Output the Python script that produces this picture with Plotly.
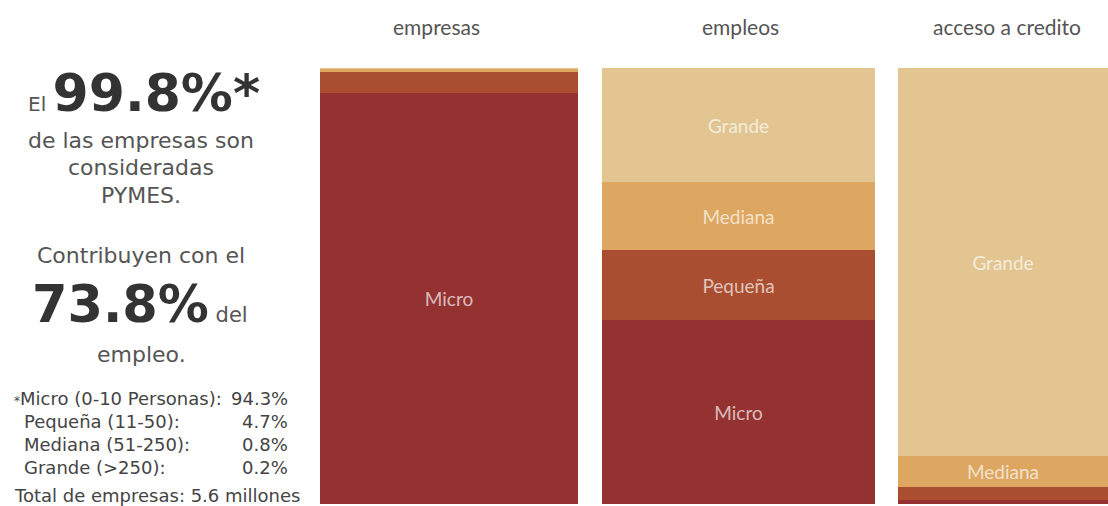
import plotly.graph_objects as go

# ---- data ----
panels = ["empresas", "empleos", "acceso a credito"]
segments = ["Micro", "Pequeña", "Mediana", "Grande"]
empresas_vals = [94.3, 4.7, 0.8, 0.2]
empleos_vals = [42.1, 16.1, 15.6, 26.2]
credito_vals = [1.0, 3.0, 7.0, 89.0]
footnote_labels = ["Micro (0-10 Personas):", "Pequeña (11-50):", "Mediana (51-250):", "Grande (>250):"]
pymes_share = "99.8%"
empleo_share = "73.8%"
total_text = "Total de empresas: 5.6 millones"

colors = {"Micro": "#933230", "Pequeña": "#A94E31", "Mediana": "#DDA761", "Grande": "#E2C591"}

W, H = 1108, 506
TOP, BOT = 68, 504

def px(x):
    return x / W

def py(y):
    return (BOT - y) / (BOT - TOP)

values_by_panel = [empresas_vals, empleos_vals, credito_vals]
axis_ids = ["x", "x2", "x3"]
domains = [[320 / W, 578 / W], [602 / W, 875 / W], [898 / W, 1.0]]

fig = go.Figure()
for p_i, (panel, vals) in enumerate(zip(panels, values_by_panel)):
    for s_i, seg in enumerate(segments):
        v = vals[s_i]
        fig.add_trace(go.Bar(
            x=[panel], y=[v], name=seg,
            xaxis=axis_ids[p_i], yaxis="y",
            marker=dict(color=colors[seg], line=dict(width=0)),
            text=[seg if v >= 5 else ""],
            textposition="inside", insidetextanchor="middle", textangle=0,
            insidetextfont=dict(family="Lato", size=19, color="rgba(255,255,255,0.68)"),
            width=1, showlegend=False, hoverinfo="skip",
        ))

layout_axes = {}
for i, (aid, dom) in enumerate(zip(axis_ids, domains)):
    key = "xaxis" if i == 0 else f"xaxis{i+1}"
    layout_axes[key] = dict(domain=dom, range=[-0.5, 0.5], visible=False,
                            anchor="y", fixedrange=True)

fig.update_layout(
    **layout_axes,
    yaxis=dict(range=[0, 100], visible=False, domain=[0, 1], fixedrange=True),
    barmode="stack", bargap=0,
    width=W, height=H,
    margin=dict(l=0, r=0, t=TOP, b=H - BOT, pad=0),
    paper_bgcolor="white", plot_bgcolor="white",
)

ann = []
# panel titles
title_x = [436, 740, 1007]
for t, x in zip(panels, title_x):
    ann.append(dict(text=t, x=px(x), y=py(26), xref="paper", yref="paper",
                    showarrow=False, xanchor="center", yanchor="middle",
                    font=dict(family="Lato", size=21, color="#555555")))

gray = "#555555"
dark = "#333333"
LF = "DejaVu Sans"
body_font = dict(family=LF, size=22, color=gray)

ann.append(dict(text=f"<span style='font-size:20px;font-weight:400;color:{gray}'>El </span><b>{pymes_share}*</b>",
                x=px(144), y=py(93), xref="paper", yref="paper", showarrow=False,
                xanchor="center", yanchor="middle",
                font=dict(family=LF, size=52, color=dark)))
for txt, y in [("de las empresas son", 140), ("consideradas", 167), ("PYMES.", 195),
               ("Contribuyen con el", 255), ("empleo.", 354)]:
    ann.append(dict(text=txt, x=px(141), y=py(y), xref="paper", yref="paper",
                    showarrow=False, xanchor="center", yanchor="middle", font=body_font))
ann.append(dict(text=f"<b>{empleo_share}</b><span style='font-size:21px;font-weight:400;color:{gray}'> del</span>",
                x=px(140), y=py(304), xref="paper", yref="paper", showarrow=False,
                xanchor="center", yanchor="middle",
                font=dict(family=LF, size=51, color=dark)))

foot_font = dict(family=LF, size=18, color="#444444")
foot_y = [398, 421, 444, 467]
for i, (lab, v, y) in enumerate(zip(footnote_labels, empresas_vals, foot_y)):
    lx = 12 if i == 0 else 22
    ltxt = ("<span style='font-size:12px'>*</span>" + lab) if i == 0 else lab
    ann.append(dict(text=ltxt, x=px(lx), y=py(y), xref="paper", yref="paper",
                    showarrow=False, xanchor="left", yanchor="middle", font=foot_font))
    ann.append(dict(text=f"{v}%", x=px(290), y=py(y), xref="paper", yref="paper",
                    showarrow=False, xanchor="right", yanchor="middle", font=foot_font))
ann.append(dict(text=total_text, x=px(12), y=py(495), xref="paper", yref="paper",
                showarrow=False, xanchor="left", yanchor="middle", font=foot_font))

fig.update_layout(annotations=ann)

fig.write_html("out.html", config={"displayModeBar": False},
               post_script="document.body.style.margin='0';document.body.style.overflow='hidden';")
